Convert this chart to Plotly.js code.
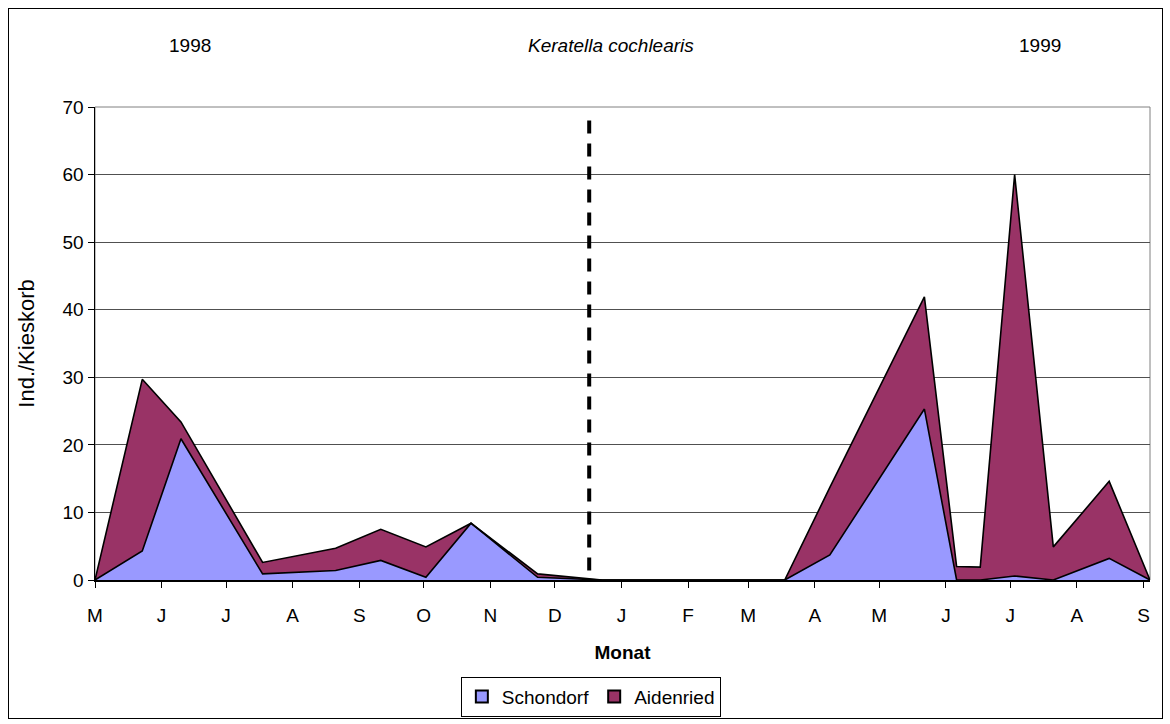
<!DOCTYPE html>
<html>
<head>
<meta charset="utf-8">
<script src="https://cdn.plot.ly/plotly-3.0.1.min.js"></script>
<style>
  html, body { margin: 0; padding: 0; background: #ffffff; }
  #frame { position: absolute; left: 8px; top: 8px; width: 1153px; height: 709px; border: 1px solid #000; pointer-events: none; z-index: 2; }
  #chart { position: absolute; left: 0; top: 0; width: 1170px; height: 724px; }
</style>
</head>
<body>
<div id="chart"></div>
<div id="frame"></div>
<script>
// Sampling dates (Keratella cochlearis counts, two sites)
const sampleDates = [
  '1998-05-01','1998-05-23','1998-06-10','1998-07-18','1998-08-21','1998-09-11',
  '1998-10-02','1998-10-23','1998-11-23','1998-12-23','1999-03-18','1999-04-08',
  '1999-05-22','1999-06-06','1999-06-17','1999-07-03','1999-07-21','1999-08-16',
  '1999-09-04'
];
// Individuals per gravel basket
const schondorf = [0, 4.3, 20.9, 0.9, 1.4, 2.9, 0.4, 8.4, 0.4, 0, 0, 3.7, 25.3, 0, 0, 0.6, 0, 3.2, 0];
const aidenried = [0, 25.4, 2.5, 1.7, 3.3, 4.6, 4.5, 0, 0.5, 0, 0, 10.0, 16.6, 2.0, 1.9, 59.4, 4.9, 11.4, 0];

// Month ticks
const monthTicks = [
  '1998-05-01','1998-06-01','1998-07-01','1998-08-01','1998-09-01','1998-10-01',
  '1998-11-01','1998-12-01','1999-01-01','1999-02-01','1999-03-01','1999-04-01',
  '1999-05-01','1999-06-01','1999-07-01','1999-08-01','1999-09-01'
];
const monthLabels = ['M','J','J','A','S','O','N','D','J','F','M','A','M','J','J','A','S'];

const siteNames = ['Schondorf', 'Aidenried'];
const siteColors = ['#9999FF', '#993366'];

const xRange = ['1998-05-01', '1999-09-04'];
const yearBreak = '1998-12-17';
const yearBreakTop = 68;

const FONT = 'Liberation Sans, Arial, sans-serif';

const seriesValues = [schondorf, aidenried];

// Stacked areas
const traces = seriesValues.map((vals, i) => ({
  name: siteNames[i],
  x: sampleDates, y: vals,
  type: 'scatter', mode: 'lines', stackgroup: 'sites',
  line: { color: '#000000', width: 1.6 },
  fillcolor: siteColors[i],
  showlegend: false, legendgroup: siteNames[i]
}));

// Square legend keys
siteNames.forEach((name, i) => {
  traces.push({
    name: name, legendgroup: name,
    x: [null], y: [null], type: 'scatter', mode: 'markers',
    marker: { symbol: 'square', size: 13, color: siteColors[i], line: { color: '#000000', width: 1 } },
    showlegend: true, hoverinfo: 'skip'
  });
});

const layout = {
  width: 1170, height: 724,
  margin: { l: 95, r: 20, t: 107, b: 144 },
  paper_bgcolor: '#ffffff', plot_bgcolor: '#ffffff',
  font: { family: FONT, size: 19, color: '#000000' },
  showlegend: true,
  legend: {
    orientation: 'h', xref: 'container', yref: 'container',
    x: 0.505, xanchor: 'center', y: 0.01, yanchor: 'bottom',
    bordercolor: '#000000', borderwidth: 1, font: { family: FONT, size: 19 },
    itemwidth: 30, tracegroupgap: 0, traceorder: 'normal',
    itemsizing: 'constant'
  },
  xaxis: {
    type: 'date', range: xRange,
    tickmode: 'array', tickvals: monthTicks, ticktext: monthLabels,
    ticks: 'outside', ticklen: 6, tickcolor: '#000000', tickwidth: 1,
    ticklabelstandoff: 12,
    showline: true, linecolor: '#000000', linewidth: 1.5,
    showgrid: false, zeroline: false,
    tickfont: { family: FONT, size: 19 },
    title: { text: '<b>Monat</b>', font: { family: FONT, size: 19 }, standoff: 20 }
  },
  yaxis: {
    range: [0, 70], dtick: 10, tick0: 0,
    ticks: 'outside', ticklen: 6, tickcolor: '#000000',
    showline: true, linecolor: '#000000', linewidth: 1.5,
    showgrid: true, gridcolor: '#505050', gridwidth: 1,
    zeroline: false,
    tickfont: { family: FONT, size: 19 },
    title: { text: 'Ind./Kieskorb', font: { family: FONT, size: 22 }, standoff: 22 }
  },
  shapes: [
    { type: 'rect', xref: 'paper', yref: 'paper', x0: 0, x1: 1, y0: 0, y1: 1,
      line: { color: '#808080', width: 1 }, layer: 'below' },
    { type: 'line', xref: 'x', yref: 'y', x0: yearBreak, x1: yearBreak, y0: yearBreakTop, y1: 0,
      line: { color: '#000000', width: 4, dash: '13px,10px' } }
  ],
  annotations: [
    { text: '1998', xref: 'paper', yref: 'paper', x: 0.09, y: 1.131, xanchor: 'center', yanchor: 'middle',
      showarrow: false, font: { family: FONT, size: 19 } },
    { text: '<i>Keratella cochlearis</i>', xref: 'paper', yref: 'paper', x: 0.489, y: 1.131,
      xanchor: 'center', yanchor: 'middle', showarrow: false, font: { family: FONT, size: 19 } },
    { text: '1999', xref: 'paper', yref: 'paper', x: 0.896, y: 1.131, xanchor: 'center', yanchor: 'middle',
      showarrow: false, font: { family: FONT, size: 19 } }
  ]
};

Plotly.newPlot('chart', traces, layout, { displayModeBar: false, staticPlot: true });
</script>
</body>
</html>
